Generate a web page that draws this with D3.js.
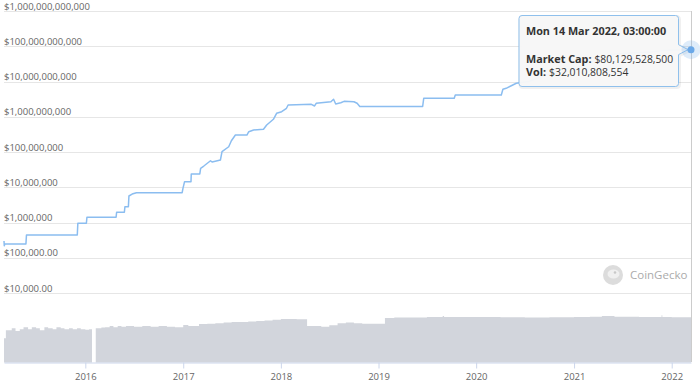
<!DOCTYPE html>
<html>
<head>
<meta charset="utf-8">
<script src="https://cdn.jsdelivr.net/npm/d3@7"></script>
<style>
  body { margin: 0; background: #fff; }
  svg { display: block; font-family: "Open Sans", sans-serif; }
</style>
</head>
<body>
<div id="chart"></div>
<script>
// market cap (USD)
const capDates = [
  "2015-03-03", "2015-03-04", "2015-03-06", "2015-05-24", "2015-05-26", "2015-12-02", "2015-12-04",
  "2016-01-05", "2016-01-07", "2016-04-25", "2016-04-27", "2016-05-26", "2016-05-28", "2016-06-10",
  "2016-06-12", "2016-06-24", "2016-07-10", "2016-12-28", "2016-12-31", "2017-01-06", "2017-01-30",
  "2017-01-31", "2017-03-04", "2017-03-07", "2017-03-19", "2017-04-13", "2017-04-19", "2017-05-20",
  "2017-05-26", "2017-06-20", "2017-06-30", "2017-07-15", "2017-08-27", "2017-09-03", "2017-09-21",
  "2017-10-28", "2017-11-09", "2017-12-04", "2017-12-16", "2018-01-04", "2018-01-22", "2018-01-28",
  "2018-04-25", "2018-05-07", "2018-05-13", "2018-07-07", "2018-07-17", "2018-07-25", "2018-08-13",
  "2018-08-25", "2018-10-01", "2018-10-13", "2018-10-23", "2019-06-15", "2019-06-19", "2019-10-11",
  "2019-10-15", "2020-04-04", "2020-04-10", "2020-04-22", "2020-05-17", "2020-05-30", "2020-07-15",
  "2020-09-15", "2020-11-15", "2021-01-01", "2021-02-15", "2021-04-01", "2021-05-15", "2021-07-01",
  "2021-09-01", "2021-10-15", "2021-12-01", "2022-01-20", "2022-03-14T03:00:00Z"
];
const marketCap = [
  3.0e5, 2.2e5, 2.46e5, 2.46e5, 4.4e5, 4.4e5, 9.5e5,
  9.5e5, 1.41e6, 1.41e6, 1.95e6, 1.95e6, 2.8e6, 2.8e6,
  5.65e6, 6.4e6, 7.0e6, 7.0e6, 9.3e6, 1.44e7, 1.44e7,
  2.38e7, 2.38e7, 3.45e7, 4.0e7, 5.66e7, 5.2e7, 5.93e7,
  1.02e8, 1.41e8, 2.09e8, 3.03e8, 3.03e8, 3.77e8, 4.21e8,
  4.4e8, 5.83e8, 8.47e8, 1.25e9, 1.39e9, 1.74e9, 2.15e9,
  2.25e9, 2.02e9, 2.41e9, 2.67e9, 3.13e9, 2.3e9, 2.5e9,
  2.74e9, 2.67e9, 2.41e9, 1.95e9, 1.95e9, 3.34e9, 3.34e9,
  4.14e9, 4.14e9, 6.0e9, 6.41e9, 7.96e9, 8.9e9, 1.0e10,
  1.5e10, 1.8e10, 2.1e10, 3.4e10, 4.1e10, 5.8e10, 6.2e10,
  6.7e10, 6.9e10, 7.6e10, 7.8e10, 80129528500
];

// traded volume (USD), null = no data
const volDates = [
  "2015-03-03", "2015-03-10", "2015-04-01", "2015-04-15", "2015-05-01", "2015-05-15", "2015-06-01",
  "2015-06-15", "2015-07-01", "2015-07-15", "2015-08-01", "2015-08-15", "2015-09-01", "2015-09-15",
  "2015-10-01", "2015-10-15", "2015-11-01", "2015-11-15", "2015-12-01", "2015-12-15", "2016-01-01",
  "2016-01-15", "2016-01-26", "2016-01-27", "2016-02-09", "2016-03-01", "2016-03-15", "2016-04-01",
  "2016-04-15", "2016-05-01", "2016-05-15", "2016-06-01", "2016-07-01", "2016-08-01", "2016-09-01",
  "2016-10-01", "2016-11-01", "2016-12-01", "2017-01-01", "2017-01-20", "2017-03-01", "2017-04-01",
  "2017-05-01", "2017-06-01", "2017-07-01", "2017-08-01", "2017-09-01", "2017-10-01", "2017-11-01",
  "2017-12-01", "2018-01-01", "2018-02-01", "2018-03-01", "2018-04-09", "2018-05-01", "2018-06-01",
  "2018-07-01", "2018-08-01", "2018-09-01", "2018-10-01", "2018-11-01", "2018-12-01", "2019-01-25",
  "2019-03-01", "2019-05-01", "2019-07-01", "2019-08-29", "2019-09-03", "2020-01-01", "2020-04-01",
  "2020-07-01", "2020-10-01", "2021-01-01", "2021-03-01", "2021-04-15", "2021-06-01", "2021-09-01",
  "2021-11-01", "2021-11-24", "2021-11-27", "2022-01-01", "2022-03-14T03:00:00Z"
];
const volumes = [
  4.2e5, 3.1e7, 9e7, 2e7, 5e7, 1.5e8, 5e7,
  1.5e8, 9e7, 3e7, 1.5e8, 9e7, 5e7, 1.5e8,
  9e7, 5e7, 9e7, 5e7, 9e7, 5e7, 4e7,
  5e7, 5e7, null, 9e7, 1.2e8, 1.5e8, 2.7e8,
  1.5e8, 2.7e8, 2e8, 2.7e8, 2e8, 2.7e8, 2e8,
  2.7e8, 2e8, 1.5e8, 4.6e8, 2.7e8, 7.8e8, 1e9,
  1.3e9, 1.8e9, 2.3e9, 2.3e9, 3e9, 4e9, 5e9,
  8e9, 1.15e10, 1.15e10, 1.1e10, 2.7e8, 2.7e8, 2e8,
  4e8, 1.3e9, 1.8e9, 1.3e9, 1e9, 1e9, 2e10,
  2.5e10, 2.8e10, 3.4e10, 6e10, 3.4e10, 3.4e10, 3e10,
  2.8e10, 3e10, 3.6e10, 4e10, 5.5e10, 4e10, 3.6e10,
  3.4e10, 9e10, 3.4e10, 3.2e10, 3.2e10
];

const yTicks = [1e4, 1e5, 1e6, 1e7, 1e8, 1e9, 1e10, 1e11, 1e12];

const tipTitle = "Mon 14 Mar 2022, 03:00:00";
const tipVolume = 32010808554;

const width = 700;
const height = 384;

const cap = capDates.map((d, i) => ({ date: d3.isoParse(d), v: marketCap[i] }));
const vol = volDates.map((d, i) => ({ date: d3.isoParse(d), v: volumes[i] }));

const x = d3.scaleUtc()
  .domain([cap[0].date, cap[cap.length - 1].date])
  .range([4, 691]);

const y = d3.scaleLog()
  .domain([1e4, 1e12])
  .range([293, 11]);

const yVol = d3.scaleLog()
  .domain([1, 1e11])
  .range([362.5, 315]);

const svg = d3.select('#chart')
  .append('svg')
  .attr('width', width)
  .attr('height', height);

// grid + labels
const fmtBig = d3.format('$,.0f');
const fmtSmall = d3.format('$,.2f');

svg.append('g')
  .selectAll('line')
  .data(yTicks)
  .enter()
  .append('line')
  .attr('x1', 4)
  .attr('x2', 691)
  .attr('y1', d => Math.round(y(d)) + 0.5)
  .attr('y2', d => Math.round(y(d)) + 0.5)
  .attr('stroke', '#e6e6e6');

svg.append('g')
  .selectAll('text')
  .data(yTicks)
  .enter()
  .append('text')
  .attr('x', 4)
  .attr('y', d => y(d) - 1.5)
  .attr('fill', '#666')
  .style('font-size', '9.5px')
  .text(d => d >= 1e6 ? fmtBig(d) : fmtSmall(d));

// volume
const area = d3.area()
  .defined(d => d.v != null)
  .x(d => x(d.date))
  .y0(362.5)
  .y1(d => yVol(d.v))
  .curve(d3.curveStepAfter);

svg.append('path')
  .datum(vol)
  .attr('d', area)
  .attr('fill', '#d2d5dc');

// crosshair on the hovered point
const last = cap[cap.length - 1];
const px = x(last.date);
const py = y(last.v);

svg.append('line')
  .attr('x1', Math.round(px) + 0.5)
  .attr('x2', Math.round(px) + 0.5)
  .attr('y1', 11)
  .attr('y2', 362)
  .attr('stroke', '#cccccc');

// x axis
const xAxis = svg.append('g')
  .attr('transform', 'translate(0,362.5)')
  .call(d3.axisBottom(x)
    .ticks(d3.utcYear.every(1))
    .tickFormat(d3.utcFormat('%Y'))
    .tickSize(6)
    .tickSizeOuter(0)
    .tickPadding(5));
xAxis.select('.domain').attr('stroke', '#ccd6eb');
xAxis.selectAll('.tick line').attr('stroke', '#ccd6eb');
xAxis.selectAll('.tick text')
  .attr('fill', '#666')
  .style('font-size', '9.5px')
  .style('font-family', '"Open Sans", sans-serif');

// watermark
const wm = svg.append('g').attr('transform', 'translate(613,275)');
wm.append('circle').attr('r', 10).attr('fill', '#dcdcdc');
wm.append('ellipse').attr('cx', 0.5).attr('cy', -1).attr('rx', 6).attr('ry', 4.5).attr('fill', '#f0f0f0');
wm.append('circle').attr('cx', 2).attr('cy', -2.5).attr('r', 1.3).attr('fill', '#c8c8c8');
svg.append('text')
  .attr('x', 630)
  .attr('y', 279)
  .attr('fill', '#ababab')
  .style('font-size', '11.5px')
  .text('CoinGecko');

// market cap line
const line = d3.line()
  .x(d => x(d.date))
  .y(d => y(d.v));

svg.append('path')
  .datum(cap)
  .attr('d', line)
  .attr('fill', 'none')
  .attr('stroke', '#8bbdf0')
  .attr('stroke-width', 1.5)
  .attr('stroke-linejoin', 'round');

// tooltip (callout pointing at the last point)
const bx1 = px - 12.5;
const bx0 = bx1 - 159.5;
const by0 = 15.5;
const by1 = 86.5;
const r = 3;
const tipPath = `M${bx0 + r},${by0} H${bx1 - r} Q${bx1},${by0} ${bx1},${by0 + r} V${py - 5}
  L${px - 3},${py} L${bx1},${py + 5} V${by1 - r} Q${bx1},${by1} ${bx1 - r},${by1}
  H${bx0 + r} Q${bx0},${by1} ${bx0},${by1 - r} V${by0 + r} Q${bx0},${by0} ${bx0 + r},${by0} Z`;

svg.append('path')
  .attr('d', tipPath)
  .attr('transform', 'translate(1,1)')
  .attr('fill', 'none')
  .attr('stroke', '#000')
  .attr('stroke-opacity', 0.06)
  .attr('stroke-width', 3);

svg.append('path')
  .attr('d', tipPath)
  .attr('fill', '#f7f7f7')
  .attr('fill-opacity', 0.97)
  .attr('stroke', '#8fc0ec')
  .attr('stroke-width', 1);

const tip = svg.append('g')
  .attr('fill', '#333')
  .style('font-size', '10.8px');

tip.append('text')
  .attr('x', bx0 + 7)
  .attr('y', 35)
  .style('font-weight', 'bold')
  .text(tipTitle);

const t1 = tip.append('text').attr('x', bx0 + 7).attr('y', 62.5);
t1.append('tspan').style('font-weight', 'bold').text('Market Cap:');
t1.append('tspan').attr('dx', 3).style('font-size', '10.3px').text(fmtBig(last.v));

const t2 = tip.append('text').attr('x', bx0 + 7).attr('y', 76);
t2.append('tspan').style('font-weight', 'bold').text('Vol:');
t2.append('tspan').attr('dx', 3).style('font-size', '10.4px').text(fmtBig(tipVolume));

// hovered point
svg.append('circle')
  .attr('cx', px)
  .attr('cy', py)
  .attr('r', 9.5)
  .attr('fill', '#7cb5ec')
  .attr('fill-opacity', 0.25);

svg.append('circle')
  .attr('cx', px)
  .attr('cy', py)
  .attr('r', 3.5)
  .attr('fill', '#6aa8e8');
</script>
</body>
</html>
